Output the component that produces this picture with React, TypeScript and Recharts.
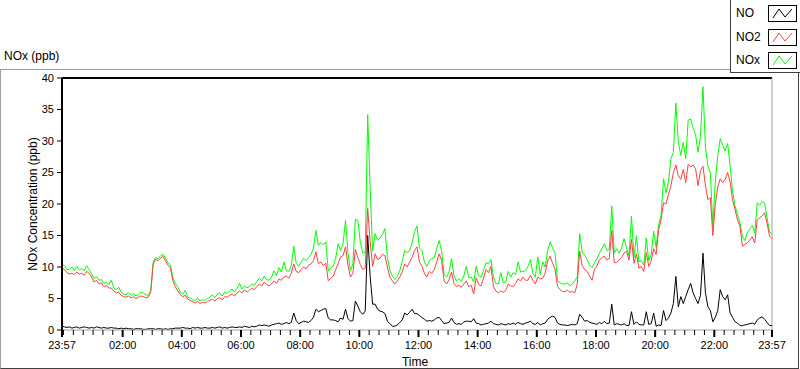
import React from 'react';
import { LineChart, Line, XAxis, YAxis, ReferenceLine } from 'recharts';

// Minutes from 23:57, one reading every 5 minutes
const STEP_MIN = 5;

const NO2 = [
  9.8, 9.6, 9.1, 8.9, 9.0, 8.8, 9.2, 8.9, 9.0, 8.7, 9.3, 9.0,
  8.4, 7.6, 7.9, 7.3, 7.5, 6.9, 7.0, 6.7, 6.6, 6.2, 5.9, 6.0,
  5.5, 5.3, 5.2, 5.4, 5.1, 5.3, 5.0, 5.2, 5.4, 5.3, 5.1, 5.2,
  6.0, 10.5, 11.2, 11.0, 11.4, 11.7, 11.0, 10.3, 9.8, 7.8, 6.8, 6.2,
  5.6, 5.3, 5.5, 4.9, 4.7, 4.5, 4.3, 4.5, 4.2, 4.4, 4.3, 4.5,
  4.7, 4.9, 4.6, 5.0, 5.1, 4.8, 5.3, 5.2, 5.5, 5.7, 5.4, 5.9,
  6.2, 5.9, 6.4, 6.0, 6.3, 6.6, 6.4, 6.9, 7.3, 7.0, 7.6, 7.2,
  7.0, 7.3, 7.8, 7.4, 8.1, 7.9, 8.4, 8.6, 8.2, 9.0, 10.5, 9.3,
  9.1, 9.6, 10.0, 9.7, 10.3, 10.5, 11.0, 12.4, 10.5, 10.8, 10.2, 10.6,
  7.8, 8.2, 8.5, 9.6, 10.5, 11.6, 11.8, 13.2, 10.3, 8.4, 9.0, 12.8,
  11.5, 10.4, 9.6, 9.8, 19.3, 14.0, 10.1, 12.1, 11.2, 11.4, 12.0, 11.8,
  10.0, 8.4, 7.8, 7.3, 7.8, 8.4, 9.2, 10.5, 10.0, 10.8, 11.5, 12.6,
  13.2, 10.8, 10.1, 9.0, 8.4, 9.3, 9.0, 9.6, 10.8, 12.1, 11.0, 7.8,
  7.3, 8.0, 9.2, 7.4, 6.9, 7.1, 6.8, 7.3, 7.8, 6.9, 7.1, 5.7,
  8.3, 7.2, 7.0, 8.2, 9.6, 9.1, 10.1, 6.9, 6.2, 5.9, 6.2, 6.0,
  6.3, 7.3, 7.0, 6.9, 7.4, 8.1, 7.8, 8.4, 7.9, 7.9, 8.7, 7.9,
  7.3, 8.4, 8.1, 8.2, 9.0, 11.0, 11.7, 10.6, 9.6, 6.9, 6.4, 6.1,
  6.1, 6.3, 6.0, 6.1, 5.9, 7.3, 12.5, 10.2, 9.6, 9.3, 8.6, 7.9,
  9.6, 10.2, 11.1, 11.5, 11.7, 11.1, 11.3, 15.8, 10.7, 10.7, 11.1, 11.5,
  12.2, 12.5, 11.1, 14.4, 10.6, 12.1, 9.8, 10.1, 9.3, 12.3, 10.1, 11.0,
  12.9, 12.0, 15.9, 17.5, 20.2, 20.0, 21.5, 22.9, 25.0, 26.2, 24.5, 23.9,
  25.5, 23.4, 26.3, 25.9, 26.2, 25.6, 22.9, 25.3, 26.0, 22.9, 20.7, 21.0,
  15.0, 20.0, 22.7, 24.0, 23.4, 23.9, 25.0, 23.5, 20.7, 19.1, 17.5, 16.5,
  13.3, 13.6, 13.8, 14.3, 14.8, 13.8, 17.5, 17.8, 18.1, 18.6, 16.9, 14.9,
  14.5,
];

const NOX = [
  10.4, 10.2, 9.6, 9.6, 10.0, 9.4, 10.1, 9.5, 9.8, 9.4, 10.2, 9.6,
  8.9, 8.2, 8.5, 7.9, 8.0, 7.4, 7.6, 7.2, 7.9, 6.7, 6.4, 6.8,
  6.0, 5.7, 5.6, 5.9, 5.5, 5.8, 5.4, 5.6, 6.0, 5.9, 5.6, 5.5,
  6.3, 10.8, 11.5, 11.3, 11.8, 12.0, 11.4, 10.7, 10.3, 8.3, 7.4, 6.8,
  6.0, 5.7, 6.3, 5.2, 5.1, 4.8, 4.7, 5.1, 4.6, 4.8, 4.7, 5.0,
  5.2, 5.6, 5.1, 5.7, 5.9, 5.4, 6.0, 5.8, 6.2, 6.5, 6.0, 6.6,
  7.4, 6.5, 7.0, 6.7, 6.9, 7.3, 7.1, 7.7, 8.2, 7.8, 8.5, 8.0,
  7.9, 8.4, 9.4, 8.6, 9.9, 9.2, 10.8, 9.4, 9.3, 10.2, 13.3, 10.6,
  10.1, 10.8, 11.4, 11.0, 11.5, 12.0, 13.0, 15.8, 13.4, 13.9, 13.5, 14.0,
  9.4, 9.8, 10.1, 11.4, 13.7, 12.6, 13.7, 17.4, 12.2, 9.4, 10.5, 17.6,
  17.4, 14.0, 12.2, 12.4, 34.2, 22.5, 12.6, 15.3, 14.2, 14.6, 15.2, 16.1,
  11.5, 9.5, 8.6, 8.0, 8.5, 9.4, 10.9, 12.6, 12.3, 12.6, 13.8, 15.6,
  16.5, 13.0, 12.6, 10.8, 10.1, 11.0, 11.3, 11.5, 12.9, 14.2, 12.5, 8.8,
  8.4, 9.2, 11.3, 8.6, 7.8, 8.1, 7.7, 8.6, 10.1, 8.3, 8.4, 7.6,
  10.1, 8.6, 8.4, 9.5, 10.7, 10.5, 11.2, 8.4, 7.4, 7.3, 9.1, 7.5,
  7.6, 9.3, 8.4, 9.1, 8.8, 10.8, 9.2, 9.3, 9.4, 10.1, 11.2, 9.0,
  8.4, 11.6, 8.8, 10.8, 10.0, 12.6, 14.0, 13.0, 12.2, 7.8, 7.5, 7.3,
  7.3, 7.5, 7.0, 7.3, 7.8, 8.4, 15.3, 12.4, 11.9, 11.2, 10.3, 9.9,
  10.7, 11.3, 12.2, 12.9, 13.7, 12.6, 12.8, 19.7, 12.2, 12.9, 12.2, 13.0,
  14.5, 13.0, 11.8, 18.1, 11.5, 15.0, 10.8, 11.0, 10.3, 14.6, 11.0, 12.0,
  15.7, 13.1, 16.7, 18.2, 24.0, 21.8, 23.5, 27.2, 28.2, 36.0, 29.8, 27.7,
  29.8, 27.2, 33.3, 33.5, 32.0, 31.0, 28.2, 30.7, 38.6, 29.0, 26.1, 24.9,
  16.5, 23.6, 27.7, 30.4, 29.3, 28.4, 29.6, 26.1, 22.0, 19.7, 18.3, 17.0,
  14.9, 14.2, 15.4, 16.1, 16.6, 15.4, 20.2, 19.8, 20.4, 20.2, 17.8, 15.6,
  15.2,
];

const NO = [
  0.6, 0.5, 0.4, 0.5, 0.3, 0.4, 0.5, 0.3, 0.4, 0.5, 0.4, 0.3,
  0.4, 0.3, 0.5, 0.4, 0.3, 0.4, 0.3, 0.3, 0.4, 0.3, 0.3, 0.2,
  0.3, 0.2, 0.3, 0.2, 0.2, 0.1, 0.2, 0.2, 0.2, 0.1, 0.1, 0.2,
  0.2, 0.2, 0.1, 0.2, 0.2, 0.1, 0.2, 0.1, 0.2, 0.2, 0.3, 0.3,
  0.3, 0.4, 0.3, 0.3, 0.2, 0.4, 0.3, 0.4, 0.3, 0.3, 0.4, 0.3,
  0.3, 0.4, 0.3, 0.4, 0.5, 0.3, 0.4, 0.3, 0.4, 0.5, 0.4, 0.4,
  0.5, 0.4, 0.6, 0.5, 0.4, 0.6, 0.5, 0.6, 0.8, 0.7, 0.8, 0.7,
  0.6, 0.8, 0.9, 1.0, 1.1, 0.9, 1.0, 1.2, 1.0, 1.2, 2.7, 1.5,
  1.0, 1.2, 1.4, 1.3, 1.2, 1.5, 2.0, 3.3, 2.9, 3.1, 3.3, 3.4,
  1.9, 1.6, 1.6, 1.5, 1.3, 1.9, 1.7, 3.3, 1.8, 1.4, 1.5, 4.6,
  3.8, 2.9, 2.5, 3.0, 15.0, 8.5, 4.1, 4.1, 3.3, 3.0, 2.9, 2.6,
  1.4, 1.0, 0.6, 0.6, 0.8, 1.2, 1.6, 2.7, 2.4, 2.8, 3.3, 2.6,
  2.6, 2.3, 2.0, 1.7, 1.4, 1.5, 1.4, 1.6, 1.9, 2.0, 1.5, 1.0,
  1.1, 1.2, 1.9, 1.2, 0.9, 1.0, 0.9, 1.3, 1.4, 1.4, 1.3, 1.8,
  1.1, 1.0, 0.8, 0.9, 1.0, 1.1, 1.4, 1.0, 0.9, 0.8, 1.0, 0.9,
  0.8, 1.0, 0.9, 1.1, 0.9, 1.2, 1.0, 0.9, 1.1, 1.2, 1.4, 1.0,
  0.9, 1.2, 0.8, 1.0, 1.1, 1.7, 2.0, 2.2, 2.0, 1.1, 0.9, 0.8,
  0.8, 0.7, 0.8, 0.9, 0.8, 1.0, 2.5, 2.0, 1.4, 1.5, 1.2, 1.1,
  1.0, 0.9, 1.2, 1.0, 1.4, 1.0, 1.1, 4.1, 0.8, 1.0, 0.9, 0.8,
  1.0, 0.7, 0.7, 2.9, 0.9, 1.3, 0.9, 0.8, 0.8, 2.9, 0.9, 1.0,
  2.7, 0.6, 0.8, 0.7, 3.1, 1.5, 1.9, 2.7, 4.2, 8.5, 3.7, 5.3,
  4.2, 5.3, 6.4, 7.4, 5.9, 5.0, 4.2, 5.5, 12.2, 5.9, 3.7, 3.1,
  1.3, 2.0, 3.1, 6.4, 5.3, 4.8, 5.6, 2.7, 2.0, 1.3, 1.1, 0.7,
  0.7, 0.8, 0.9, 1.0, 1.1, 0.9, 1.6, 1.9, 2.1, 1.7, 1.2, 0.7,
  0.7,
];

// Axis ticks (minutes after 23:57)
const MAJOR_TICKS = [0, 123, 243, 363, 483, 603, 723, 843, 963, 1083, 1203, 1323, 1440];
const MAJOR_LABELS = ['23:57', '02:00', '04:00', '06:00', '08:00', '10:00', '12:00', '14:00', '16:00', '18:00', '20:00', '22:00', '23:57'];
const MINOR_STEP = 20;
const MINOR_OFFSET = 3;
const Y_TICKS = [0, 5, 10, 15, 20, 25, 30, 35, 40];

const SERIES = [
  { key: 'nox', name: 'NOx', color: '#00ff00' },
  { key: 'no2', name: 'NO2', color: '#ff4040' },
  { key: 'no', name: 'NO', color: '#000000' },
];
const LEGEND_ORDER = ['no', 'no2', 'nox'];

const data = NO2.map((v, i) => ({ t: i * STEP_MIN, no2: v, nox: NOX[i], no: NO[i] }));

const minorTicks: number[] = [];
for (let m = MINOR_OFFSET; m < 1440; m += MINOR_STEP) minorTicks.push(m);
const allTicks = Array.from(new Set([...MAJOR_TICKS, ...minorTicks])).sort((a, b) => a - b);

const FONT = '"Liberation Sans", Arial, sans-serif';

const XTick = (props: any) => {
  const { x, y, payload } = props;
  const idx = MAJOR_TICKS.indexOf(payload.value);
  const major = idx >= 0;
  return (
    <g>
      <line x1={x} x2={x} y1={y} y2={y + (major ? 7 : 5)} stroke="#000" strokeWidth={major ? 2 : 1} />
      {major && (
        <text x={x} y={y + 18.5} textAnchor="middle" fontSize={11} fontFamily={FONT} fill="#000">
          {MAJOR_LABELS[idx]}
        </text>
      )}
    </g>
  );
};

const YLabel = (props: any) => {
  const vb = props.viewBox || {};
  const cx = vb.x + 37;
  const cy = vb.y + vb.height / 2;
  return (
    <text x={cx} y={cy} transform={`rotate(-90, ${cx}, ${cy})`} textAnchor="middle" fontSize={12} fontFamily={FONT} fill="#000">
      NOx Concentration (ppb)
    </text>
  );
};

const XLabel = (props: any) => {
  const vb = props.viewBox || {};
  return (
    <text x={vb.x + vb.width / 2 - 2} y={vb.y + 36} textAnchor="middle" fontSize={12} fontFamily={FONT} fill="#000">
      Time
    </text>
  );
};

const LegendIcon = ({ color }: { color: string }) => (
  <svg width={29} height={17} style={{ display: 'block' }}>
    <rect x={0.5} y={0.5} width={28} height={16} fill="#fff" stroke="#000" />
    <polyline points="5,13 11,4 17,12 24,4" fill="none" stroke={color} strokeWidth={1} />
  </svg>
);

export default function App() {
  return (
    <div style={{ position: 'fixed', left: 0, top: 0, width: 800, height: 369, background: '#fff', overflow: 'hidden', fontFamily: FONT }}>
      {/* outer frame */}
      <div style={{ position: 'absolute', left: 0, top: 69, width: 797, height: 298, borderTop: '1px solid #a0a0a0', borderLeft: '1px solid #a0a0a0', borderRight: '1px solid #404040', borderBottom: '1px solid #404040' }} />
      {/* title */}
      <div style={{ position: 'absolute', left: 4, top: 49, fontSize: 12, color: '#000', whiteSpace: 'nowrap' }}>NOx (ppb)</div>
      {/* legend */}
      <div style={{ position: 'absolute', left: 730, top: -1, width: 72, height: 72, background: '#fff', borderLeft: '1px solid #404040', borderBottom: '1px solid #404040', borderTop: '1px solid #404040' }}>
        {LEGEND_ORDER.map((k, i) => {
          const s = SERIES.find((x) => x.key === k)!;
          return (
            <div key={k} style={{ position: 'absolute', left: 0, top: 5 + i * 23.5, width: 70, height: 17 }}>
              <span style={{ position: 'absolute', left: 5, top: 1, fontSize: 12, lineHeight: '14px', color: '#000' }}>{s.name}</span>
              <div style={{ position: 'absolute', left: 37, top: 0 }}>
                <LegendIcon color={s.color} />
              </div>
            </div>
          );
        })}
      </div>
      <div style={{ position: 'absolute', left: 0, top: 0 }}>
        <LineChart width={800} height={369} data={data} margin={{ top: 78, right: 28, bottom: 9, left: 0 }}>
          <XAxis
            dataKey="t"
            type="number"
            domain={[0, 1440]}
            ticks={allTicks}
            interval={0}
            tickSize={0}
            tickMargin={0}
            tickLine={false}
            axisLine={{ stroke: '#a0a0a0' }}
            tick={<XTick />}
            height={30}
            label={<XLabel />}
          />
          <YAxis
            type="number"
            domain={[0, 40]}
            ticks={Y_TICKS}
            interval={0}
            width={62}
            tickSize={5}
            tickMargin={3}
            tickLine={{ stroke: '#000' }}
            axisLine={{ stroke: '#000', strokeWidth: 2 }}
            tick={{ fontSize: 11, fontFamily: FONT, fill: '#000' }}
            label={<YLabel />}
          />
          <ReferenceLine y={40} stroke="#000" strokeWidth={2} />
          <ReferenceLine x={1440} stroke="#a0a0a0" />
          {SERIES.map((s) => (
            <Line key={s.key} type="linear" dataKey={s.key} stroke={s.color} strokeWidth={1} dot={false} isAnimationActive={false} />
          ))}
        </LineChart>
      </div>
    </div>
  );
}
